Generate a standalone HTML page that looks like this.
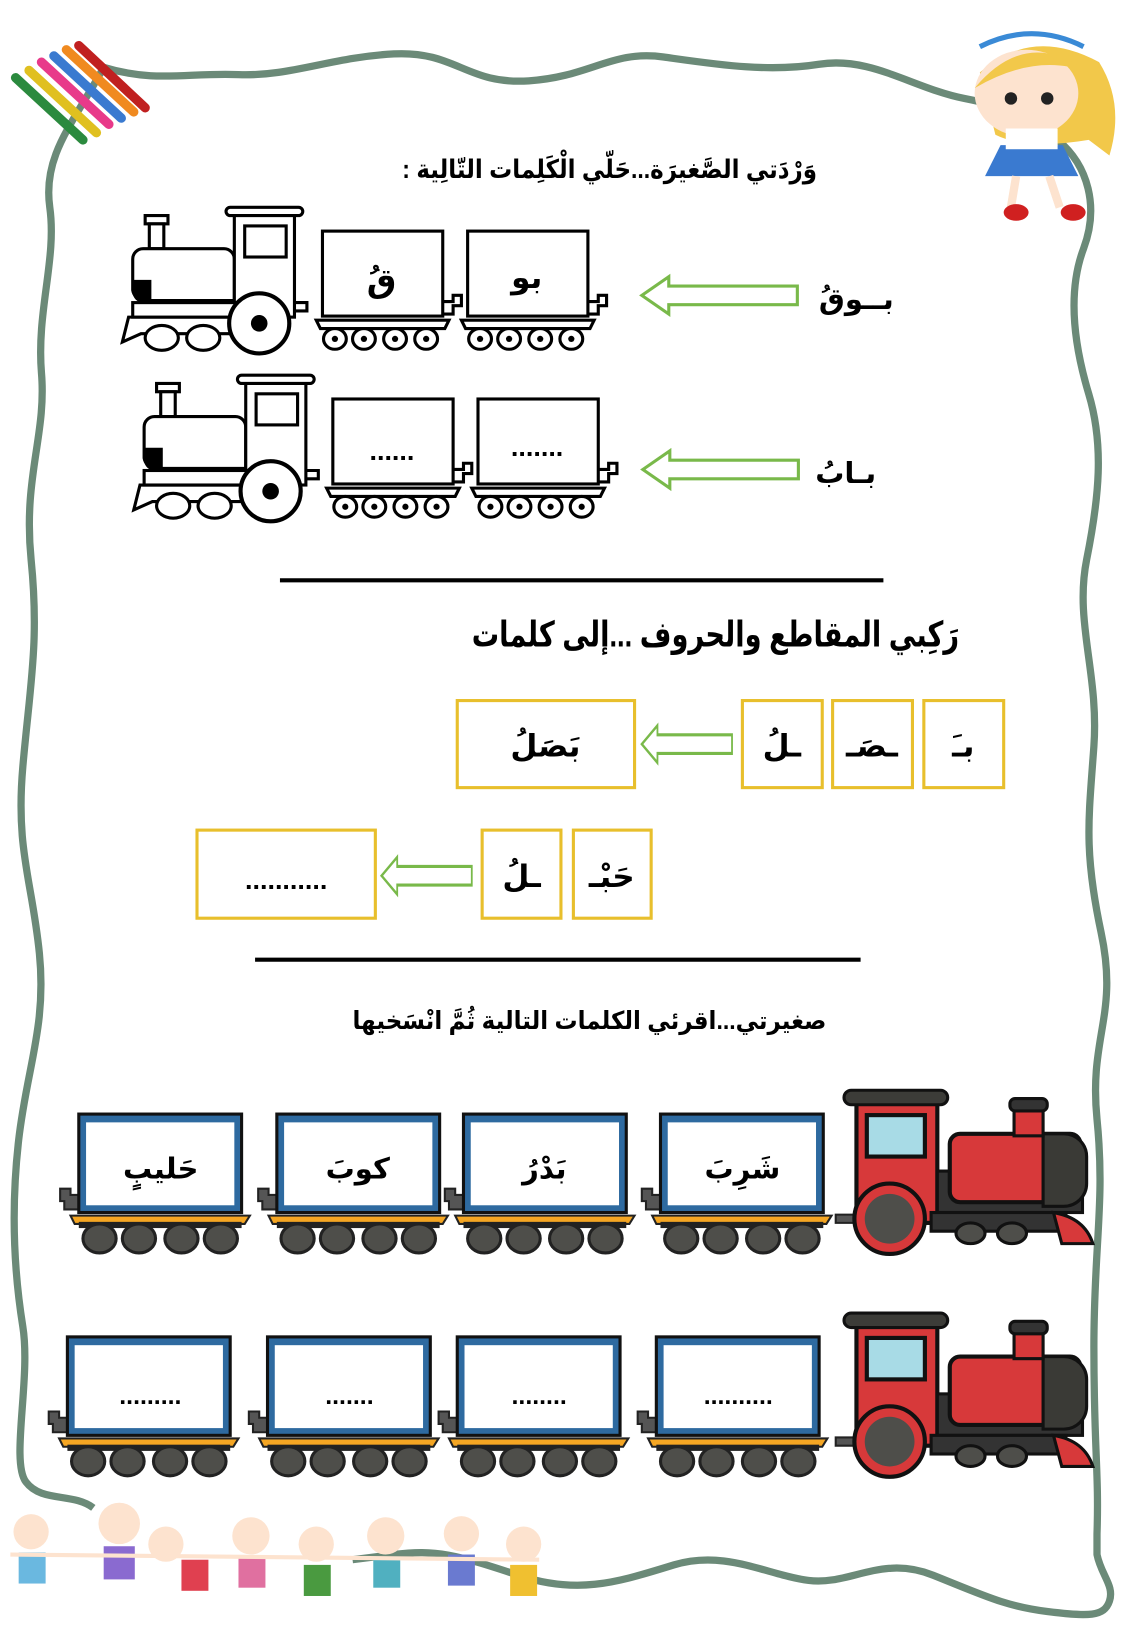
<!DOCTYPE html>
<html><head><meta charset="utf-8"><style>
html,body{margin:0;padding:0;background:#fff;width:1125px;height:1625px;overflow:hidden}
svg{display:block}
text{font-family:"Liberation Sans","DejaVu Sans",sans-serif;font-weight:bold;fill:#000}
</style></head><body>
<svg width="1125" height="1625" viewBox="0 0 1085 1568" preserveAspectRatio="none" xmlns="http://www.w3.org/2000/svg">
<defs>
<g id="bcar">
<rect x="0" y="0" width="116" height="82" fill="#fff" stroke="#000" stroke-width="3"/>
<path d="M-6 86 H122 L118 94 H-2 Z" fill="#fff" stroke="#000" stroke-width="3"/>
<path d="M116 68 h10 v-6 h8 v10 h-8 v8 h-10" fill="none" stroke="#000" stroke-width="3"/>
<g fill="#fff" stroke="#000" stroke-width="3">
<ellipse cx="12" cy="104" rx="11" ry="10"/><ellipse cx="40" cy="104" rx="11" ry="10"/><ellipse cx="70" cy="104" rx="11" ry="10"/><ellipse cx="100" cy="104" rx="11" ry="10"/></g>
<g fill="#000"><circle cx="12" cy="104" r="3"/><circle cx="40" cy="104" r="3"/><circle cx="70" cy="104" r="3"/><circle cx="100" cy="104" r="3"/></g>
</g>
<g id="beng">
<rect x="24" y="8" width="22" height="8" fill="#fff" stroke="#000" stroke-width="3"/>
<rect x="28" y="16" width="14" height="24" fill="#fff" stroke="#000" stroke-width="3"/>
<path d="M30 40 H100 a10 10 0 0 1 10 10 V90 H22 a12 12 0 0 1 -10 -10 V50 a10 10 0 0 1 10 -10 Z" fill="#fff" stroke="#000" stroke-width="3"/>
<path d="M12 70 V82 a10 10 0 0 0 10 10 H30 V70 Z" fill="#000"/>
<rect x="110" y="6" width="58" height="100" fill="#fff" stroke="#000" stroke-width="3"/>
<rect x="102" y="0" width="74" height="8" rx="4" fill="#fff" stroke="#000" stroke-width="3"/>
<rect x="120" y="18" width="40" height="30" fill="#fff" stroke="#000" stroke-width="3"/>
<path d="M2 130 L8 106 H110 V122 H20 Z" fill="#fff" stroke="#000" stroke-width="3"/>
<rect x="12" y="92" width="100" height="14" fill="#fff" stroke="#000" stroke-width="3"/>
<ellipse cx="40" cy="126" rx="16" ry="12" fill="#fff" stroke="#000" stroke-width="3"/>
<ellipse cx="80" cy="126" rx="16" ry="12" fill="#fff" stroke="#000" stroke-width="3"/>
<circle cx="134" cy="112" r="29" fill="#fff" stroke="#000" stroke-width="4"/>
<circle cx="134" cy="112" r="8" fill="#000"/>
<path d="M168 92 h12 v8 h-12" fill="none" stroke="#000" stroke-width="3"/>
</g>
<g id="ccar">
<path d="M-18 72 h10 v6 h8 v14 h-14 v-8 h-4z" fill="#555" stroke="#222" stroke-width="2"/>
<rect x="0" y="0" width="157" height="95" fill="#2e6aa0" stroke="#111" stroke-width="3"/>
<rect x="7" y="8" width="143" height="80" fill="#fff"/>
<path d="M-8 98 H165 L160 106 H-4 Z" fill="#f5a623" stroke="#222" stroke-width="2"/>
<rect x="0" y="104" width="157" height="6" fill="#222"/>
<g fill="#4e4e4a" stroke="#222" stroke-width="3">
<ellipse cx="20" cy="120" rx="16" ry="14"/><ellipse cx="58" cy="120" rx="16" ry="14"/><ellipse cx="99" cy="120" rx="16" ry="14"/><ellipse cx="137" cy="120" rx="16" ry="14"/></g>
</g>
<g id="ceng">
<rect x="20" y="30" width="78" height="120" fill="#d7393a" stroke="#111" stroke-width="4"/>
<rect x="8" y="22" width="100" height="14" rx="7" fill="#3c3c38" stroke="#111" stroke-width="3"/>
<rect x="30" y="46" width="56" height="40" fill="#a8dbe6" stroke="#111" stroke-width="4"/>
<rect x="98" y="100" width="140" height="40" fill="#333" stroke="#111" stroke-width="3"/>
<rect x="110" y="64" width="126" height="66" rx="10" fill="#d7393a" stroke="#111" stroke-width="4"/>
<path d="M200 64 h20 a22 22 0 0 1 22 22 v26 a22 22 0 0 1 -22 22 h-20z" fill="#3a3a36" stroke="#111" stroke-width="3"/>
<rect x="172" y="40" width="28" height="26" fill="#d7393a" stroke="#111" stroke-width="3"/>
<rect x="168" y="30" width="36" height="12" rx="5" fill="#333" stroke="#111" stroke-width="3"/>
<path d="M0 150 h20 v-8 h-20z" fill="#555" stroke="#222" stroke-width="2"/>
<circle cx="52" cy="146" r="34" fill="#d7393a" stroke="#111" stroke-width="4"/>
<circle cx="52" cy="146" r="24" fill="#4e4e4a"/>
<rect x="92" y="140" width="130" height="18" fill="#333" stroke="#111" stroke-width="3"/>
<ellipse cx="130" cy="160" rx="14" ry="10" fill="#4e4e4a" stroke="#111" stroke-width="3"/>
<ellipse cx="170" cy="160" rx="14" ry="10" fill="#4e4e4a" stroke="#111" stroke-width="3"/>
<path d="M210 140 q30 5 38 30 h-30z" fill="#d7393a" stroke="#111" stroke-width="3"/>
</g>
<path id="arr" d="M0 0 L26 -18 V-9 H150 V9 H26 V18 Z" fill="#fff" stroke="#79b94a" stroke-width="3"/>
</defs>

<path d="M100 65 C150 80 180 70 230 72 S320 55 380 52 S450 82 510 78 S590 48 640 55 S740 70 790 62 S880 85 930 95 S980 110 1000 120 L1020 135 C1050 160 1060 200 1045 240 S1035 330 1050 380 S1060 480 1048 540 S1060 650 1055 720 S1045 820 1062 900 S1050 1000 1058 1080 S1055 1200 1055 1300 S1060 1420 1058 1480 V1500 C1062 1520 1075 1530 1070 1545 S1050 1560 1010 1555 S950 1540 900 1520 S820 1530 780 1525 S700 1495 650 1510 S560 1540 500 1520 S420 1495 380 1500 L340 1505 M90 1455 C70 1440 40 1450 25 1430 S30 1330 22 1280 S10 1170 18 1100 S45 990 38 920 S15 820 22 740 S38 620 30 540 S45 420 40 360 S55 250 48 200 S70 120 100 65" fill="none" stroke="#6b8a78" stroke-width="7" stroke-linejoin="round"/>

<g stroke-width="9" stroke-linecap="round">
<line x1="15" y1="75" x2="80" y2="135" stroke="#2b8a3e"/>
<line x1="28" y1="68" x2="93" y2="128" stroke="#e0c020"/>
<line x1="40" y1="60" x2="105" y2="120" stroke="#e83a8a"/>
<line x1="52" y1="54" x2="117" y2="114" stroke="#3a7ad0"/>
<line x1="64" y1="48" x2="129" y2="108" stroke="#f08a20"/>
<line x1="76" y1="44" x2="140" y2="104" stroke="#c02020"/>
</g>
<g>
<path d="M945 70 q50 -45 115 -10 q25 40 10 90 l-20 -15 q-60 10 -90 -5 z" fill="#f2c84a"/>
<ellipse cx="990" cy="90" rx="50" ry="42" fill="#fde3cf"/>
<path d="M940 85 q50 -60 110 -15 q-50 -20 -110 15" fill="#f2c84a"/>
<path d="M945 45 q50 -25 100 0" fill="none" stroke="#3a8ad6" stroke-width="5"/>
<circle cx="975" cy="95" r="6" fill="#222"/><circle cx="1010" cy="95" r="6" fill="#222"/>
<path d="M965 140 h60 l15 30 h-90z" fill="#3a7ad0"/>
<rect x="970" y="124" width="50" height="20" fill="#fff"/>
<path d="M980 170 l-5 30 M1012 170 l10 30" stroke="#fde3cf" stroke-width="8"/>
<ellipse cx="980" cy="205" rx="12" ry="8" fill="#d02020"/><ellipse cx="1035" cy="205" rx="12" ry="8" fill="#d02020"/>
</g>
<g>
<g fill="#fde3cf">
<circle cx="30" cy="1478" r="17"/><circle cx="115" cy="1470" r="20"/><circle cx="160" cy="1490" r="17"/><circle cx="242" cy="1482" r="18"/><circle cx="305" cy="1490" r="17"/><circle cx="372" cy="1482" r="18"/><circle cx="445" cy="1480" r="17"/><circle cx="505" cy="1490" r="17"/></g>
<g>
<rect x="18" y="1498" width="26" height="30" fill="#6ab8e0"/><rect x="100" y="1492" width="30" height="32" fill="#8a6ad0"/><rect x="175" y="1505" width="26" height="30" fill="#e04050"/><rect x="230" y="1502" width="26" height="30" fill="#e070a0"/><rect x="293" y="1510" width="26" height="30" fill="#4a9a40"/><rect x="360" y="1502" width="26" height="30" fill="#50b0c0"/><rect x="432" y="1500" width="26" height="30" fill="#6a7ad0"/><rect x="492" y="1510" width="26" height="30" fill="#f0c030"/></g>
<path d="M10 1500 L520 1505" stroke="#fde3cf" stroke-width="4"/>
</g>

<text x="388" y="172" font-size="25" textLength="400" lengthAdjust="spacingAndGlyphs">: وَرْدَتي الصَّغيرَة...حَلّي الْكَلِمات التّالِية</text>

<use href="#beng" x="116" y="200"/>
<use href="#bcar" x="311" y="223"/>
<use href="#bcar" x="451" y="223"/>
<text x="368" y="282" text-anchor="middle" font-size="32">قُ</text>
<text x="508" y="278" text-anchor="middle" font-size="30">بو</text>
<use href="#arr" x="619" y="285"/>
<text x="862" y="298" text-anchor="end" font-size="28">بــوقُ</text>

<use href="#beng" x="127" y="362"/>
<use href="#bcar" x="321" y="385"/>
<use href="#bcar" x="461" y="385"/>
<text x="378" y="444" text-anchor="middle" font-size="26">......</text>
<text x="518" y="440" text-anchor="middle" font-size="26">.......</text>
<use href="#arr" x="620" y="453"/>
<text x="845" y="466" text-anchor="end" font-size="28">بـابُ</text>

<line x1="270" y1="560" x2="852" y2="560" stroke="#000" stroke-width="4"/>
<text x="455" y="624" font-size="34" textLength="470" lengthAdjust="spacingAndGlyphs">رَكِبي المقاطع والحروف ...إلى كلمات</text>

<g fill="#fff" stroke="#e8bf2c" stroke-width="3">
<rect x="891" y="676" width="77" height="84"/><rect x="803" y="676" width="77" height="84"/><rect x="716" y="676" width="77" height="84"/><rect x="441" y="676" width="171" height="84"/>
<rect x="553" y="801" width="75" height="85"/><rect x="465" y="801" width="76" height="85"/><rect x="190" y="801" width="172" height="85"/>
</g>
<text x="929" y="730" text-anchor="middle" font-size="30">بـَ</text>
<text x="841" y="730" text-anchor="middle" font-size="30">ـصَـ</text>
<text x="754" y="730" text-anchor="middle" font-size="30">ـلُ</text>
<text x="526" y="730" text-anchor="middle" font-size="30">بَصَلُ</text>
<use href="#arr" transform="translate(619 718) scale(0.58 1)"/>
<text x="590" y="856" text-anchor="middle" font-size="30">حَبْـ</text>
<text x="503" y="856" text-anchor="middle" font-size="30">ـلُ</text>
<text x="276" y="858" text-anchor="middle" font-size="26">...........</text>
<use href="#arr" transform="translate(368 845) scale(0.58 1)"/>

<line x1="246" y1="926" x2="830" y2="926" stroke="#000" stroke-width="4"/>
<text x="340" y="993" font-size="24" textLength="457" lengthAdjust="spacingAndGlyphs">صغيرتي...اقرئي الكلمات التالية ثُمَّ انْسَخيها</text>

<use href="#ccar" x="76" y="1075"/><use href="#ccar" x="267" y="1075"/><use href="#ccar" x="447" y="1075"/><use href="#ccar" x="637" y="1075"/>
<use href="#ceng" x="806" y="1030"/>
<text x="155" y="1137" text-anchor="middle" font-size="28">حَليبٍ</text>
<text x="345" y="1137" text-anchor="middle" font-size="28">كوبَ</text>
<text x="525" y="1137" text-anchor="middle" font-size="28">بَدْرُ</text>
<text x="716" y="1137" text-anchor="middle" font-size="28">شَرِبَ</text>

<use href="#ccar" x="65" y="1290"/><use href="#ccar" x="258" y="1290"/><use href="#ccar" x="441" y="1290"/><use href="#ccar" x="633" y="1290"/>
<use href="#ceng" x="806" y="1245"/>
<text x="145" y="1355" text-anchor="middle" font-size="24">.........</text>
<text x="337" y="1355" text-anchor="middle" font-size="24">.......</text>
<text x="520" y="1355" text-anchor="middle" font-size="24">........</text>
<text x="712" y="1355" text-anchor="middle" font-size="24">..........</text>
</svg>
</body></html>
